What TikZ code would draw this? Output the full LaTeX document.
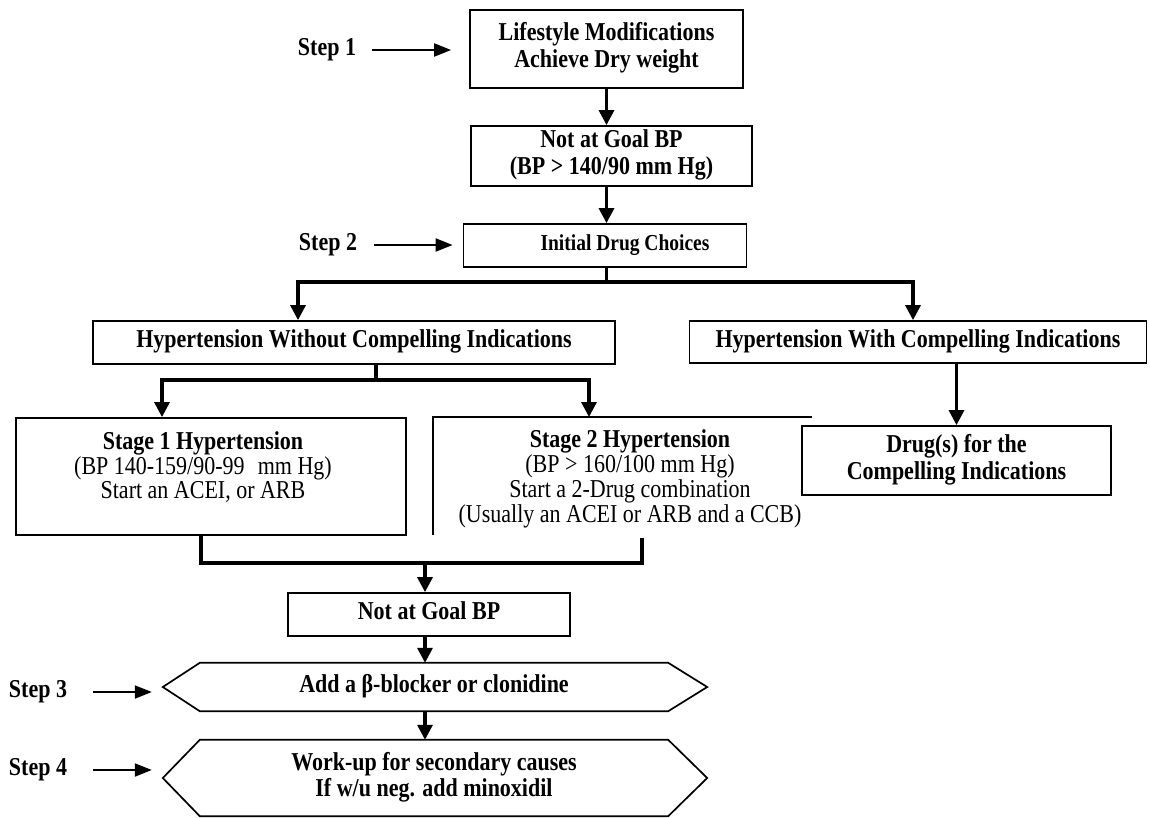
\documentclass[tikz,border=0pt]{standalone}
\usepackage{fontspec}
\usepackage{graphicx}
\setmainfont{Liberation Serif}
\usetikzlibrary{arrows.meta,calc}
\newcommand{\vst}[1]{\scalebox{1}[1.17]{\begin{tabular}{@{}c@{}}#1\end{tabular}}}
\begin{document}
\begin{tikzpicture}[x=1pt,y=-1pt,
  bx/.style={draw, line width=1.8pt, inner sep=0pt,
    font=\bfseries\fontsize{22}{23}\selectfont},
  hx/.style={inner sep=0pt, font=\bfseries\fontsize{22}{22}\selectfont},
  txt/.style={inner sep=0pt, font=\fontsize{22}{21}\selectfont},
  steplbl/.style={inner sep=0pt, font=\bfseries\fontsize{22}{23}\selectfont},
  conn/.style={line width=3.2pt},
  arr/.style={line width=3.2pt, -{Triangle[width=15pt,length=15pt]}},
  steparr/.style={line width=2pt, -{Triangle[width=13pt,length=17pt]}},
  thinln/.style={line width=1.4pt},
  hexln/.style={line width=1.7pt, line join=miter}]
\useasboundingbox (0,0) rectangle (1150,817);

% main boxes
\node[bx, minimum width=273pt, minimum height=78pt] (b1) at (606.5,49) {\vst{Lifestyle Modifications\\Achieve Dry weight}};
\node[bx, minimum width=281pt, minimum height=60pt] (b2) at (611.5,156) {\raisebox{-4pt}{\vst{Not at Goal BP\\(BP > 140/90 mm Hg)}}};
\node[bx, minimum width=283pt, minimum height=43pt, font=\bfseries\fontsize{19.5}{20}\selectfont] (b3) at (605,245.5) {\hspace*{40pt}\vst{Initial Drug Choices}};
\node[bx, minimum width=522pt, minimum height=43pt] (hwo) at (354,342.5) {\vst{Hypertension Without Compelling Indications}};
\node[bx, minimum width=457pt, minimum height=42pt] (hw) at (918,342) {\vst{Hypertension With Compelling Indications}};
\node[bx, minimum width=390pt, minimum height=117pt] (s1) at (211,476.5) {};
\node[txt, anchor=north] (s1t) at (203,431) {\vst{\textbf{Stage 1 Hypertension}\\(BP 140-159/90-99\hspace{0.6em}mm Hg)\\Start an ACEI, or ARB}};
\coordinate (s2tr) at (812,417);
\coordinate (s2tl) at (433,417);
\coordinate (s2bl) at (433,535);
\draw[thinln] (s2tr) -- (s2tl) -- (s2bl);
\node[txt, anchor=north] (s2t) at (630,429) {\vst{\textbf{Stage 2 Hypertension}\\(BP > 160/100 mm Hg)\\Start a 2-Drug combination\\(Usually an ACEI or ARB and a CCB)}};
\node[bx, minimum width=309pt, minimum height=69pt] (drug) at (956.5,460.5) {\vst{Drug(s) for the\\Compelling Indications}};
\node[bx, minimum width=282pt, minimum height=43pt] (ng2) at (429,614.5) {\vst{Not at Goal BP}};

% hexagons
\node[hx, minimum width=468pt, minimum height=48pt] (h1) at (434,687) {\vst{Add a β-blocker or clonidine}};
\draw[hexln] (h1.north west) -- (h1.north east) -- ([xshift=39pt]h1.east) -- (h1.south east) -- (h1.south west) -- ([xshift=-37pt]h1.west) -- cycle;
\node[hx, minimum width=468pt, minimum height=76pt] (h2) at (434,778) {\vst{Work-up for secondary causes\\If w/u neg. add minoxidil}};
\draw[hexln] (h2.north west) -- (h2.north east) -- ([xshift=39pt]h2.east) -- (h2.south east) -- (h2.south west) -- ([xshift=-37pt]h2.west) -- cycle;

% step labels
\node[steplbl] (st1) at (327,50) {\vst{Step 1}};
\node[steplbl] (st2) at (328,245) {\vst{Step 2}};
\node[steplbl] (st3) at (38,692) {\vst{Step 3}};
\node[steplbl] (st4) at (38,770) {\vst{Step 4}};
\draw[steparr] ([xshift=16pt]st1.east) -- ([xshift=-18pt]b1.west |- st1.east);
\draw[steparr] ([xshift=17pt]st2.east) -- ([xshift=-10pt]b3.west |- st2.east);
\draw[steparr] ([xshift=26pt]st3.east) -- ([xshift=-48pt]h1.west |- st3.east);
\draw[steparr] ([xshift=26pt]st4.east) -- ([xshift=-48pt]h2.west |- st4.east);

% connectors
\draw[arr] (b1.south) -- (b1.south |- b2.north);
\draw[arr] (b1.south |- b2.south) -- (b1.south |- b3.north);
\coordinate (j1) at (606.5,282);
\draw[conn] (b1.south |- b3.south) -- (j1);
\draw[arr] (j1) -| ([xshift=-56pt]hwo.north);
\draw[arr] (j1) -| ([xshift=-5pt]hw.north);
\coordinate (j2) at (376,380);
\draw[conn] (j2 |- hwo.south) -- (j2);
\draw[arr] (j2) -| ([xshift=-49pt]s1.north);
\coordinate (s2in) at (589,417);
\draw[arr] (j2) -| (s2in);
\draw[arr] (drug.north |- hw.south) -- (drug.north);
\coordinate (j3) at (425,563);
\coordinate (j3r) at (642,563);
\coordinate (s2end) at (642,538);
\draw[conn] ([xshift=-10pt]s1.south) |- (j3r) -- (s2end);
\draw[arr] (j3) -- (j3 |- ng2.north);
\draw[arr] (j3 |- ng2.south) -- (j3 |- h1.north);
\draw[arr] (j3 |- h1.south) -- (j3 |- h2.north);
\end{tikzpicture}
\end{document}
